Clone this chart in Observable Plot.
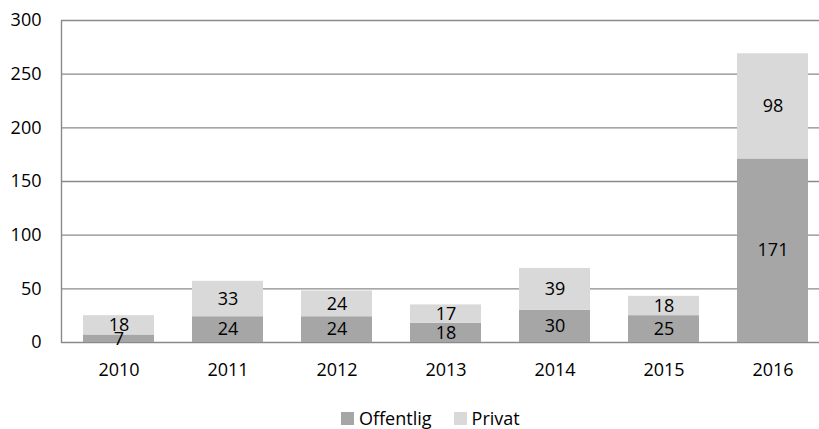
<!DOCTYPE html>
<html><head><meta charset="utf-8">
<script src="https://cdn.jsdelivr.net/npm/d3@7"></script>
<script src="https://cdn.jsdelivr.net/npm/@observablehq/plot@0.6"></script>
<style>
body{margin:0;background:#fff;font-family:"Open Sans",sans-serif}
#wrap{position:relative;width:819px;height:429px;overflow:hidden}
.leg{position:absolute;top:406px;left:341px;display:flex;align-items:center;font-size:18px;color:#000;white-space:nowrap}
.sw{display:inline-block;width:13px;height:13px;margin-right:5px}
</style>
</head><body><div id="wrap"></div>
<script>
const years = ["2010","2011","2012","2013","2014","2015","2016"];
const offentlig = [7,24,24,18,30,25,171];
const privat = [18,33,24,17,39,18,98];
const series = ["Offentlig","Privat"];
const colors = ["#a6a6a6","#d9d9d9"];
const yTicks = [0,50,100,150,200,250,300];

const data = [];
years.forEach((y,i)=>{
  data.push({year:y, series:series[0], value:offentlig[i]});
  data.push({year:y, series:series[1], value:privat[i]});
});

const chart = Plot.plot({
  width: 819,
  height: 400,
  marginTop: 20,
  marginBottom: 58,
  marginLeft: 61,
  marginRight: 0,
  style: {fontFamily: '"Open Sans", sans-serif', fontSize: "18px", color: "#000", background: "#fff"},
  x: {domain: years, range: [61.5, 830], paddingInner: 0.353, paddingOuter: 0.17, label: null},
  y: {domain: [0, 300], label: null},
  color: {domain: series, range: colors},
  marks: [
    Plot.ruleY(yTicks, {stroke: "#8a8a8a", strokeWidth: 1.4}),
    Plot.barY(data, Plot.stackY({x: "year", y: "value", z: "series", fill: "series", order: series})),
    Plot.text(data, Plot.stackY({x: "year", y: "value", z: "series", order: series, text: d => String(d.value), fontSize: 18, fill: "#000"})),
    Plot.axisY({ticks: yTicks, tickSize: 0, tickPadding: 20, fontSize: 18, label: null}),
    Plot.axisX({tickSize: 0, tickPadding: 21, fontSize: 18, label: null})
  ]
});
const wrap = document.getElementById("wrap");
wrap.appendChild(chart);
// left axis line
d3.select(chart).append("line").attr("x1", 61.5).attr("x2", 61.5).attr("y1", 20).attr("y2", 342.7)
  .attr("stroke", "#8a8a8a").attr("stroke-width", 1.4);

const leg = document.createElement("div");
leg.className = "leg";
leg.innerHTML = series.map((s,i)=>`<span style="display:inline-flex;align-items:center;margin-right:${i===0?22:0}px"><span class="sw" style="background:${colors[i]}"></span>${s}</span>`).join("");
wrap.appendChild(leg);
</script>
</body></html>
